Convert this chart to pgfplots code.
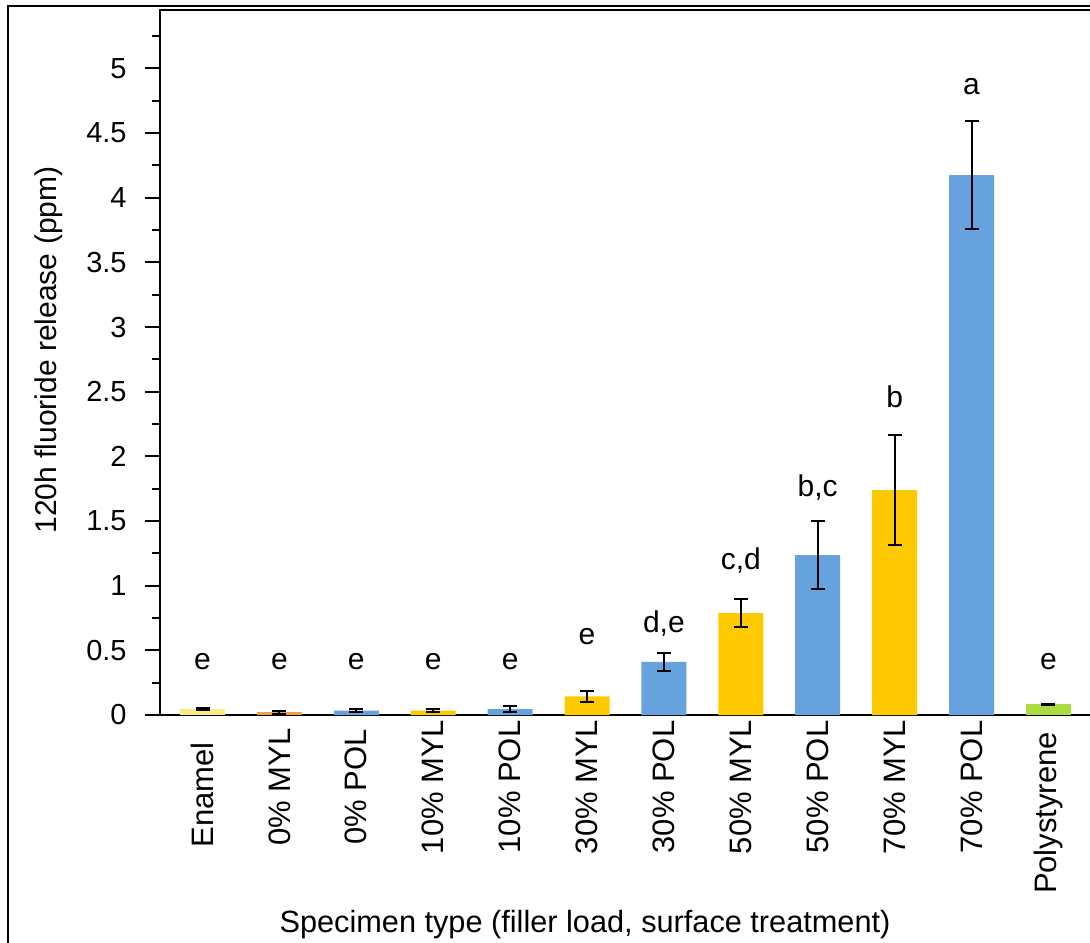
\documentclass[border=0pt]{standalone}
\usepackage{pgfplots}
\pgfplotsset{compat=1.18}
\usepackage{pgfplotstable}
\usepackage{fontspec}
\setmainfont{Liberation Sans}
\definecolor{cEnamel}{HTML}{F9EC84}
\definecolor{cOrange}{HTML}{F0A044}
\definecolor{cBlue}{HTML}{66A2DD}
\definecolor{cYellow}{HTML}{FFC900}
\definecolor{cGreen}{HTML}{ADDC40}

\pgfplotstableread{
x y err
0 0.045 0.008
}\enamel
\pgfplotstableread{
x y err
1 0.020 0.010
}\orange
\pgfplotstableread{
x y err
3 0.033 0.010
5 0.145 0.042
7 0.787 0.108
9 1.740 0.428
}\myl
\pgfplotstableread{
x y err
2 0.033 0.010
4 0.046 0.022
6 0.410 0.067
8 1.237 0.263
10 4.176 0.420
}\pol
\pgfplotstableread{
x y err
11 0.082 0.006
}\poly
\pgfplotstableread{
x y lab
0 0.348 e
1 0.348 e
2 0.348 e
3 0.348 e
4 0.348 e
5 0.541 e
6 0.632 d,e
7 1.121 c,d
8 1.686 b,c
9 2.374 b
10 4.795 a
11 0.348 e
}\labs

\begin{document}
\begin{tikzpicture}
\path[use as bounding box] (0,0) rectangle (545pt,471pt);
\clip (0,0) rectangle (545pt,471pt);
\draw[line width=1pt] (4.15pt,468pt) rectangle (560pt,-10pt);
\begin{axis}[
  at={(80pt,113.5pt)}, anchor=south west,
  x=38.45pt, y=64.65pt,
  xmin=-0.5527, xmax=11.6, ymin=0, ymax=5.45,
  axis line style={line width=1pt, black},
  xtick={0,...,11},
  xticklabels={Enamel\hspace{8pt}\null,0\% MYL,0\% POL,10\% MYL,10\% POL,30\% MYL,30\% POL,50\% MYL,50\% POL,70\% MYL,70\% POL,Polystyrene\hspace{26pt}\null},
  xtick style={draw=none},
  xticklabel style={rotate=90, anchor=center, font=\fontsize{15.5}{18}\selectfont},
  xticklabel shift=28.5pt,
  ytick={0,0.5,...,5},
  minor ytick={0.25,0.75,...,5.3},
  ytick pos=left,
  tick align=outside,
  major tick length=7.5pt,
  minor tick length=4pt,
  ytick style={line width=1pt, black},
  minor tick style={line width=1pt, black},
  yticklabel style={anchor=east, inner sep=0pt, xshift=-9pt, font=\fontsize{14.5}{17}\selectfont},
  /pgf/number format/assume math mode=true,
  clip=false,
]
\addplot[ybar, bar width=22.5pt, bar shift=0pt, fill=cEnamel, draw=none,
  error bars/.cd, y dir=both, y explicit,
  error bar style={line width=1pt, black},
  error mark options={rotate=90, mark size=3.5pt, line width=1pt, black}]
  table[x=x, y=y, y error=err] {\enamel};
\addplot[ybar, bar width=22.5pt, bar shift=0pt, fill=cOrange, draw=none,
  error bars/.cd, y dir=both, y explicit,
  error bar style={line width=1pt, black},
  error mark options={rotate=90, mark size=3.5pt, line width=1pt, black}]
  table[x=x, y=y, y error=err] {\orange};
\addplot[ybar, bar width=22.5pt, bar shift=0pt, fill=cBlue, draw=none,
  error bars/.cd, y dir=both, y explicit,
  error bar style={line width=1pt, black},
  error mark options={rotate=90, mark size=3.5pt, line width=1pt, black}]
  table[x=x, y=y, y error=err] {\pol};
\addplot[ybar, bar width=22.5pt, bar shift=0pt, fill=cYellow, draw=none,
  error bars/.cd, y dir=both, y explicit,
  error bar style={line width=1pt, black},
  error mark options={rotate=90, mark size=3.5pt, line width=1pt, black}]
  table[x=x, y=y, y error=err] {\myl};
\addplot[ybar, bar width=22.5pt, bar shift=0pt, fill=cGreen, draw=none,
  error bars/.cd, y dir=both, y explicit,
  error bar style={line width=1pt, black},
  error mark options={rotate=90, mark size=3.5pt, line width=1pt, black}]
  table[x=x, y=y, y error=err] {\poly};
\addplot[draw=none, mark=none, nodes near coords, point meta=explicit symbolic,
  nodes near coords style={font=\fontsize{15}{18}\selectfont, inner sep=0pt, text depth=0pt, anchor=south}]
  table[x=x, y=y, meta=lab] {\labs};
\end{axis}
\node[rotate=90, anchor=base, font=\fontsize{15}{18}\selectfont] at (28.35pt,296pt) {120h fluoride release (ppm)};
\node[anchor=base, font=\fontsize{15.35}{18}\selectfont] at (292.5pt,5pt) {Specimen type (filler load, surface treatment)};
\end{tikzpicture}
\end{document}
